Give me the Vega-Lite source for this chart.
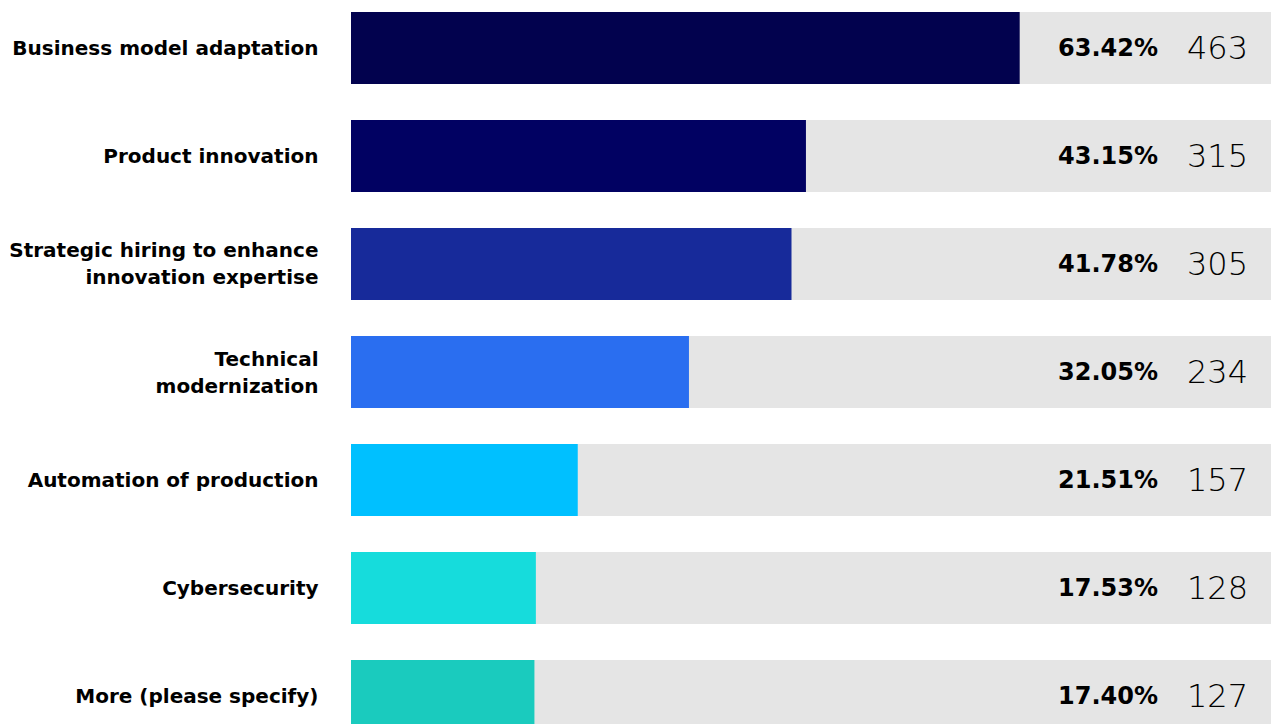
{
  "$schema": "https://vega.github.io/schema/vega-lite/v6.json",
  "width": 920,
  "height": 744,
  "padding": 0,
  "background": "white",
  "config": {"view": {"stroke": null}},
  "data": {
    "values": [
      {"label": "Business model adaptation", "count": 463, "pct": 0.6342},
      {"label": "Product innovation", "count": 315, "pct": 0.4315},
      {"label": "Strategic hiring to enhance|innovation expertise", "count": 305, "pct": 0.4178},
      {"label": "Technical|modernization", "count": 234, "pct": 0.3205},
      {"label": "Automation of production", "count": 157, "pct": 0.2151},
      {"label": "Cybersecurity", "count": 128, "pct": 0.1753},
      {"label": "More (please specify)", "count": 127, "pct": 0.1740}
    ]
  },
  "encoding": {
    "y": {
      "field": "label",
      "type": "nominal",
      "sort": null,
      "scale": {"paddingInner": 0.3333, "paddingOuter": 0.111},
      "axis": {
        "title": null,
        "domain": false,
        "ticks": false,
        "labelPadding": 33,
        "minExtent": 351,
        "maxExtent": 351,
        "labelFont": "DejaVu Sans",
        "labelFontWeight": "bold",
        "labelFontSize": 20,
        "labelColor": "#000000",
        "labelLineHeight": 27,
        "labelLimit": 400,
        "labelOffset": {"condition": {"test": "indexof(datum.label, '|') >= 0", "value": -12.5}, "value": 1},
        "labelExpr": "split(datum.label, '|')"
      }
    }
  },
  "layer": [
    {
      "mark": {"type": "bar", "color": "#e5e5e5"},
      "encoding": {
        "x": {"datum": 637, "type": "quantitative", "scale": {"domain": [0, 637], "nice": false}, "axis": null}
      }
    },
    {
      "mark": {"type": "bar"},
      "encoding": {
        "x": {"field": "count", "type": "quantitative"},
        "color": {
          "field": "label",
          "type": "nominal",
          "sort": null,
          "legend": null,
          "scale": {"range": ["#02024e", "#010162", "#172a9a", "#2a6ef0", "#00c0ff", "#16dcdc", "#1acbbe"]}
        }
      }
    },
    {
      "mark": {"type": "text", "align": "right", "baseline": "middle", "dx": -113, "dy": 1, "font": "DejaVu Sans", "fontWeight": "bold", "fontSize": 24, "color": "#000000"},
      "encoding": {
        "x": {"datum": 637, "type": "quantitative"},
        "text": {"field": "pct", "type": "quantitative", "format": ".2%"}
      }
    },
    {
      "mark": {"type": "text", "align": "right", "baseline": "middle", "dx": -23, "dy": 1, "font": "DejaVu Sans", "fontWeight": 200, "fontSize": 32, "color": "#000000"},
      "encoding": {
        "x": {"datum": 637, "type": "quantitative"},
        "text": {"field": "count", "type": "quantitative"}
      }
    }
  ]
}
